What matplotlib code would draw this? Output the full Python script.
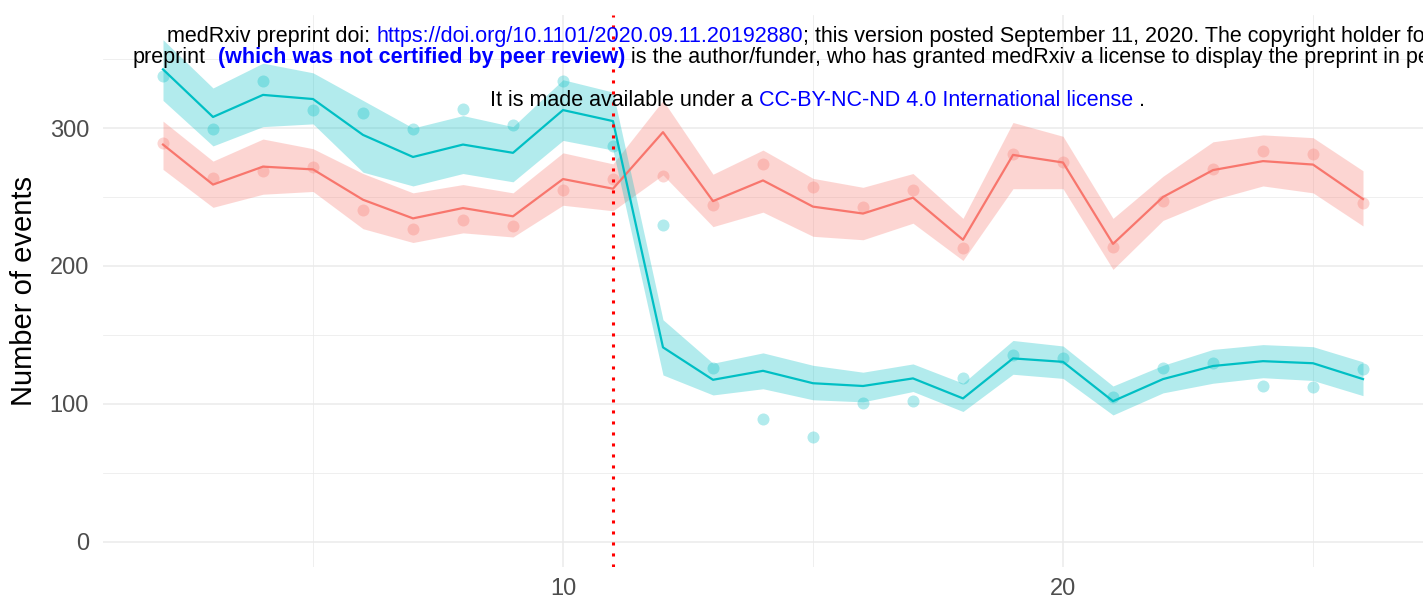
import matplotlib
matplotlib.use("Agg")
import matplotlib.pyplot as plt
import numpy as np

# ---------------- data ----------------
weeks = list(range(2, 27))

red_points = [289, 263.5, 269, 272, 240.5, 227, 233, 229, 255, 263, 265, 244, 274, 257.5,
              242.5, 255, 213, 281.5, 275.5, 214, 247, 270, 283, 281, 246]
red_fit = [288, 259, 272, 270, 248, 234.5, 242, 236, 263, 256, 297, 247, 262, 243, 238,
           249.5, 219, 280.5, 275, 216, 250, 269.5, 276, 273.5, 248.5]
red_lower = [270, 242.5, 252, 254, 227, 217, 224, 221, 244, 240, 266, 228.5, 239, 221.5,
             219, 231, 204, 256, 256, 197.5, 233, 248, 258, 253, 229]
red_upper = [305, 276, 292, 285, 267, 253, 259, 253, 282, 274, 320, 266.5, 284, 263.5,
             257, 267, 234.5, 304, 294, 234.5, 265, 290, 295, 293, 269]

cyan_points = [338, 299, 334, 313, 311, 299, 314, 302, 334, 287, 229.5, 126, 89, 76, 101,
               102, 119, 135.5, 133, 105, 126, 130, 113, 112, 125]
cyan_fit = [342.5, 308, 324, 321, 295, 279, 288, 282, 313, 305, 141, 117.5, 124, 115, 113,
            118.5, 104, 133, 130.5, 102, 118, 127.5, 131, 129.5, 118]
cyan_lower = [320, 287, 301, 303, 268, 258, 267, 261, 291, 284, 121, 106.5, 111, 103, 101.5,
              109, 94.5, 121.5, 118.5, 92, 108, 115, 119, 117, 106]
cyan_upper = [364, 329, 347, 340, 320, 300, 309, 301, 335, 326, 161, 129.5, 137, 128, 123,
              129, 115, 146, 142, 113, 128, 139.5, 143, 141.5, 130.5]

intervention_week = 11
y_major = [0, 100, 200, 300]
y_minor = [50, 150, 250, 350]
x_major = [10, 20]
x_minor = [5, 15, 25]
ylabel = "Number of events"

RED = "#F8766D"
CYAN = "#00BFC4"

W, H = 1423, 606
plt.rcParams['font.family'] = ['Liberation Sans', 'DejaVu Sans']
fig = plt.figure(figsize=(W / 100, H / 100), dpi=100)
ax = fig.add_axes([103 / W, 1 - 567 / H, 1 - 103 / W, (567 - 14.6) / H])

x = np.array(weeks)
series = [(red_points, red_fit, red_lower, red_upper, RED),
          (cyan_points, cyan_fit, cyan_lower, cyan_upper, CYAN)]
for pts, fit, lo, hi, col in series:
    ax.scatter(x, pts, s=75, color=col, alpha=0.3, linewidths=0, zorder=3)
for pts, fit, lo, hi, col in series:
    ax.fill_between(x, lo, hi, color=col, alpha=0.3, linewidth=0, zorder=4)
for pts, fit, lo, hi, col in series:
    ax.plot(x, fit, color=col, lw=1.6, zorder=5)

ax.axvline(intervention_week, color="red", lw=2.2, linestyle=(0, (1, 2.6)), zorder=6)

ax.set_xlim(0.8, 27.2)
ax.set_ylim(-18.2, 382.2)
ax.set_xticks(x_major)
ax.set_xticks(x_minor, minor=True)
ax.set_yticks(y_major)
ax.set_yticks(y_minor, minor=True)
ax.grid(True, which="major", color="#EBEBEB", lw=1.1, zorder=0)
ax.grid(True, which="minor", color="#EBEBEB", lw=0.55, zorder=0)
ax.set_axisbelow(True)
for s in ax.spines.values():
    s.set_visible(False)
ax.tick_params(which="both", length=0)
ax.tick_params(axis="y", labelsize=17, labelcolor="#4D4D4D", pad=10)
ax.tick_params(axis="x", labelsize=17, labelcolor="#4D4D4D", pad=8)
ax.set_ylabel(ylabel, fontsize=21, color="black")
ax.yaxis.set_label_coords((38 - 103) / 1320, 0.5)

# ---------------- watermark text ----------------
renderer = fig.canvas.get_renderer()


def text_width(s, size, weight):
    t = fig.text(0, 0, s, fontsize=size, fontweight=weight)
    w = t.get_window_extent(renderer).width
    t.remove()
    return w


def place_line(segments, x0, baseline, size=15.5):
    xpos = x0
    for s, col, weight in segments:
        sp = text_width("a a", size, weight) - text_width("aa", size, weight)
        lead = len(s) - len(s.lstrip(" "))
        trail = len(s) - len(s.rstrip(" "))
        core = s.strip(" ")
        xpos += lead * sp
        t = fig.text(xpos / W, 1 - baseline / H, core, fontsize=size, color=col,
                     fontweight=weight, ha="left", va="baseline", zorder=10)
        xpos += t.get_window_extent(renderer).width + trail * sp


place_line([("medRxiv preprint doi: ", "black", "normal"),
            ("https://doi.org/10.1101/2020.09.11.20192880", "blue", "normal"),
            ("; this version posted September 11, 2020. The copyright holder for this", "black", "normal")],
           167, 42)
place_line([("preprint  ", "black", "normal"),
            ("(which was not certified by peer review)", "blue", "bold"),
            (" is the author/funder, who has granted medRxiv a license to display the preprint in perpetuity.",
             "black", "normal")],
           133, 63)
place_line([("It is made available under a ", "black", "normal"),
            ("CC-BY-NC-ND 4.0 International license", "blue", "normal"),
            (" .", "black", "normal")],
           490, 106)

fig.savefig("out.png", dpi=100)
